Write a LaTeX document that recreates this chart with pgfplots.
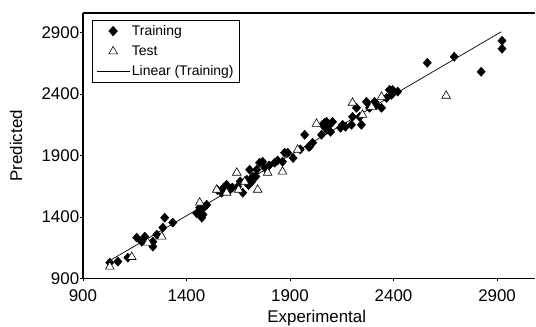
\documentclass[border=0pt]{standalone}
\usepackage{pgfplots}
\pgfplotsset{compat=1.18}
\usepackage{fontspec}
\setmainfont{Liberation Sans}

\begin{document}
\begin{tikzpicture}
\begin{axis}[
  scale only axis, width=453bp, height=266bp,
  xmin=900, xmax=3084, ymin=900, ymax=3059,
  axis lines*=left,
  axis line style={line width=1.6bp, black},
  xtick={900,1400,1900,2400,2900},
  ytick={900,1400,1900,2400,2900},
  tick align=outside, major tick length=2.5bp,
  tick style={black, line width=0.6bp},
  /pgf/number format/1000 sep={},
  /pgf/number format/assume math mode=true,
  tick label style={font=\fontsize{17}{18}\selectfont},
  xticklabel style={anchor=base, inner sep=0pt, yshift=-20bp},
  yticklabel style={anchor=east, inner sep=0pt, xshift=-1bp},
  xlabel={Experimental}, ylabel={Predicted},
  label style={font=\fontsize{17}{19}\selectfont},
  xlabel style={at={(axis description cs:0.517,0)}, anchor=base, inner sep=0pt, yshift=-44bp},
  ylabel style={at={(axis description cs:0,0.5)}, anchor=center, inner sep=0pt, yshift=67bp},
  legend style={at={(0.02,0.974)}, anchor=north west, draw=black, line width=0.8bp,
    font=\fontsize{14}{16}\selectfont, inner xsep=4bp, inner ysep=3bp, row sep=5bp},
  legend cell align=left,
  legend image code/.code={\draw[mark repeat=2,mark phase=2,#1] plot coordinates {(0bp,0bp) (16.5bp,0bp) (33bp,0bp)};},
]
\addplot[only marks, mark=diamond*, mark size=4.6bp, mark options={fill=black, draw=black, xscale=1.2}] coordinates {
(1030,1030) (1069,1038) (1117,1070) (1160,1233) (1199,1241) (1184,1200)
(1238,1200) (1257,1257) (1238,1160) (1286,1314) (1295,1395) (1334,1355)
(1464,1452) (1474,1395) (1498,1500) (1488,1484) (1464,1476) (1450,1430) (1480,1420)
(1550,1620) (1580,1640) (1594,1663) (1570,1598) (1609,1622) (1622,1640)
(1647,1647) (1660,1690) (1672,1598) (1691,1704) (1700,1660) (1705,1785)
(1739,1785) (1715,1687) (1720,1728) (1735,1730) (1753,1842) (1778,1801)
(1768,1850) (1800,1820) (1826,1842) (1840,1860) (1864,1850) (1889,1923)
(1874,1923) (1915,1880) (1950,1950) (1990,1972) (1971,2069) (2009,2004)
(1995,1972) (2052,2069) (2067,2166) (2091,2150) (2077,2109) (2077,2174)
(2105,2174) (2057,2150) (2096,2093) (2144,2126) (2168,2134) (2154,2150)
(2197,2150) (2202,2215) (2221,2288) (2236,2215) (2245,2150) (2269,2337)
(2284,2288) (2308,2337) (2318,2310) (2342,2288) (2366,2369) (2380,2434)
(2390,2393) (2395,2434) (2420,2420)
(2563,2654) (2693,2703) (2823,2581) (2924,2833) (2924,2768)
};
\addlegendentry{Training}
\addplot[only marks, mark=triangle*, mark size=5bp, mark options={fill=white, draw=black, line width=0.6bp}] coordinates {
(1030,997) (1136,1075) (1213,1192) (1281,1241) (1464,1517) (1546,1622)
(1594,1598) (1643,1760) (1652,1622) (1681,1687) (1744,1622) (1792,1760)
(1864,1769) (1937,1947) (2028,2158) (2202,2329) (2294,2296) (2250,2231)
(2342,2377) (2654,2386)
};
\addlegendentry{Test}
\addplot[black, line width=0.7bp, mark=none] coordinates {(1030,1046) (2920,2906)};
\addlegendentry{Linear (Training)}
\end{axis}
\draw[line width=1.6bp] (current axis.north west) -- (current axis.north east);
\path ([yshift=13bp]current axis.north west);
\path ([xshift=-83bp,yshift=-47bp]current axis.south west);
\end{tikzpicture}
\end{document}
